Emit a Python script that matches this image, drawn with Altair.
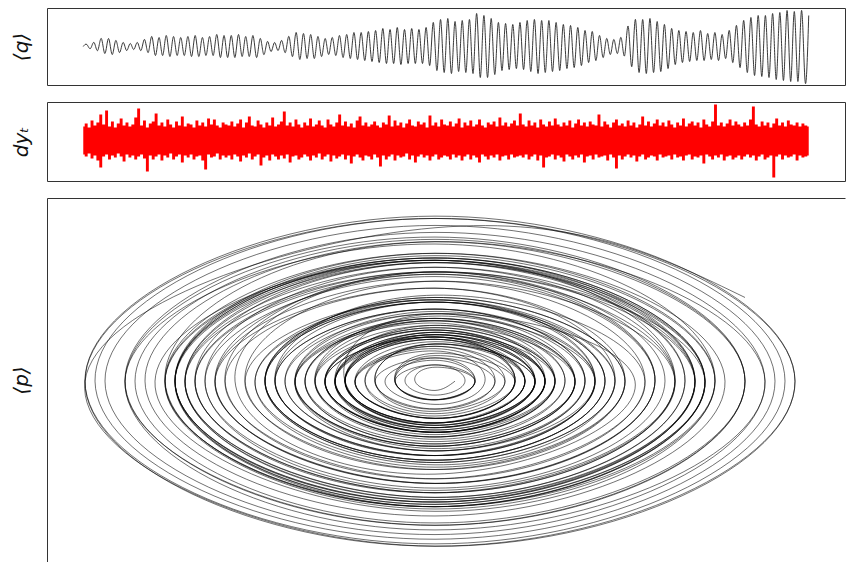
import altair as alt
import pandas as pd

# ---- values (pixel-like units, positive = up) ----
q_peaks = [2, 4, 8, 8, 6, 4, 3, 4, 7, 10,
           9, 11, 10, 9, 10, 11, 9, 10, 12, 11,
           11, 12, 10, 11, 8, 5, 4, 6, 10, 14,
           13, 12, 10, 8, 9, 11, 12, 14, 14, 15,
           16, 18, 17, 19, 17, 18, 17, 19, 24, 27,
           28, 25, 26, 27, 33, 31, 28, 24, 23, 22,
           24, 26, 27, 26, 26, 24, 22, 21, 19, 16,
           15, 11, 8, 7, 9, 20, 27, 27, 28, 25,
           22, 18, 16, 15, 14, 16, 13, 14, 12, 16,
           21, 26, 29, 31, 31, 33, 34, 36, 35, 36]
q_troughs = [-2, -4, -7, -8, -6, -4, -3, -4, -6, -9,
             -9, -10, -9, -9, -10, -10, -9, -9, -11, -11,
             -11, -10, -10, -11, -8, -5, -4, -6, -10, -13,
             -12, -12, -10, -8, -9, -11, -12, -13, -14, -15,
             -16, -17, -17, -18, -17, -17, -17, -19, -24, -26,
             -27, -25, -26, -27, -31, -31, -28, -24, -23, -22,
             -23, -25, -27, -26, -25, -24, -22, -21, -19, -16,
             -14, -11, -8, -7, -9, -20, -26, -27, -26, -25,
             -22, -18, -16, -15, -14, -14, -13, -14, -12, -16,
             -21, -26, -29, -30, -31, -33, -34, -35, -35, -35]
q_start = 0
q_end = 31          # last value of <q>, still rising
p_end = 18          # matching <p> at the end of the phase trajectory

# upper and lower edges of the red dy_t band
dy_upper = [15, 18, 14, 21, 16, 19, 27, 17, 31, 15, 20, 14, 18, 23, 16, 19, 15, 17, 24, 33, 16, 21, 14, 18, 20,
            28, 16, 19, 15, 22, 17, 14, 20, 16, 25, 15, 18, 17, 14, 21, 16, 19, 15, 23, 17, 22, 16, 14, 19, 17,
            16, 20, 15, 18, 22, 14, 19, 25, 16, 15, 21, 17, 14, 19, 16, 24, 15, 17, 20, 30, 16, 19, 15, 22, 17,
            14, 19, 16, 23, 15, 17, 21, 16, 14, 22, 17, 15, 19, 27, 16, 20, 15, 18, 14, 21, 25, 16, 19, 15, 17,
            20, 16, 14, 19, 17, 26, 15, 21, 16, 19, 14, 18, 22, 16, 15, 20, 17, 19, 14, 26, 16, 19, 15, 22, 17,
            16, 20, 15, 18, 23, 14, 19, 16, 21, 15, 17, 22, 16, 14, 19, 17, 20, 15, 24, 16, 19, 15, 18, 21, 16,
            28, 17, 15, 21, 16, 19, 14, 22, 17, 15, 20, 16, 23, 17, 15, 19, 16, 21, 14, 18, 22, 16, 19, 15, 20,
            17, 16, 27, 15, 20, 17, 14, 19, 22, 16, 18, 15, 21, 16, 19, 14, 17, 25, 16, 20, 15, 18, 22, 16, 19,
            15, 21, 17, 14, 19, 16, 23, 15, 18, 20, 16, 19, 14, 22, 17, 15, 20, 37, 16, 19, 15, 18, 22, 16, 20,
            17, 15, 19, 16, 22, 35, 17, 15, 20, 16, 19, 14, 18, 23, 16, 19, 15, 21, 17, 16, 19, 15, 18, 16, 15]
dy_lower = [-13, -15, -12, -17, -14, -19, -26, -15, -13, -18, -14, -16, -12, -15, -20, -13, -16, -14, -18, -15, -13, -17, -30, -14, -18,
            -15, -13, -19, -14, -16, -12, -18, -15, -13, -21, -14, -16, -13, -18, -15, -14, -19, -28, -13, -16, -15, -12, -18, -14, -16,
            -14, -18, -13, -15, -20, -14, -16, -12, -18, -15, -13, -24, -16, -14, -19, -13, -15, -18, -14, -17, -13, -21, -15, -14, -18,
            -16, -13, -15, -19, -14, -16, -12, -18, -15, -13, -20, -14, -17, -15, -13, -18, -14, -22, -15, -13, -16, -19, -14, -15, -18,
            -13, -16, -25, -14, -18, -15, -13, -19, -14, -16, -15, -12, -18, -14, -21, -15, -13, -16, -14, -19, -15, -13, -18, -16, -14,
            -15, -18, -13, -16, -14, -19, -15, -13, -18, -14, -16, -21, -13, -15, -18, -14, -16, -13, -19, -15, -14, -18, -13, -16, -15,
            -14, -16, -13, -18, -15, -13, -19, -14, -26, -16, -15, -13, -18, -14, -16, -20, -13, -15, -18, -14, -16, -13, -21, -15, -14,
            -18, -13, -16, -15, -14, -19, -13, -16, -27, -14, -18, -15, -13, -16, -14, -20, -15, -13, -18, -16, -14, -15, -19, -13, -16,
            -15, -14, -18, -13, -16, -15, -19, -14, -13, -18, -15, -16, -14, -22, -13, -15, -18, -14, -16, -13, -19, -15, -14, -18, -16,
            -14, -18, -15, -13, -16, -14, -19, -15, -13, -18, -16, -14, -36, -15, -13, -18, -14, -16, -15, -13, -19, -14, -16, -15, -14]

Q_LABEL = "⟨q⟩"
DY_LABEL = "dyₜ"
P_LABEL = "⟨p⟩"

# ---- tables ----
q_vals = [q_start]
for pk, tr in zip(q_peaks, q_troughs):
    q_vals += [pk, tr]
q_vals.append(q_end)
n_q = len(q_vals) - 1
df_q = pd.DataFrame({"t": list(range(len(q_vals))), "q": q_vals})

ext = q_vals[1:-1]
rows = []
for i, e in enumerate(ext):
    rows.append({"k": 2 * i, "q": e, "p": 0.0})
    nxt = ext[i + 1] if i + 1 < len(ext) else q_end
    m = (abs(e) + abs(nxt)) / 2.0
    rows.append({"k": 2 * i + 1, "q": 0.0, "p": -m if e > 0 else m})
rows.append({"k": 2 * len(ext), "q": q_end, "p": p_end})
df_ph = pd.DataFrame(rows)

n_dy = len(dy_upper) - 1
df_dy = pd.DataFrame({"i": list(range(len(dy_upper))), "hi": dy_upper, "lo": dy_lower})


def yaxis(title, domain=False):
    return alt.Axis(title=title, labels=False, ticks=False, domain=domain, grid=False,
                    domainColor="#333", domainWidth=1,
                    titlePadding=16, titleFontSize=20, titleFontWeight="normal",
                    titleFont="DejaVu Sans", titleFontStyle="italic", titleColor="#111")


top = alt.Chart(df_q).mark_line(color="#222", strokeWidth=0.9, interpolate="natural", clip=True).encode(
    x=alt.X("t:Q", axis=None, scale=alt.Scale(domain=[-0.05 * n_q, 1.05 * n_q], nice=False, zero=False)),
    y=alt.Y("q:Q", axis=yaxis(Q_LABEL), scale=alt.Scale(domain=[-38.5, 38.5], nice=False)),
).properties(width=798, height=77)

mid = alt.Chart(df_dy).mark_area(color="#ff0000", interpolate="step", clip=True).encode(
    x=alt.X("i:Q", axis=None, scale=alt.Scale(domain=[-0.05 * n_dy, 1.05 * n_dy], nice=False, zero=False)),
    y=alt.Y("hi:Q", axis=yaxis(DY_LABEL), scale=alt.Scale(domain=[-39.5, 39.5], nice=False)),
    y2="lo:Q",
).properties(width=798, height=79)

bot = alt.Chart(df_ph).mark_line(color="#000", strokeWidth=0.7, opacity=0.8, interpolate="natural", clip=True).encode(
    x=alt.X("q:Q", axis=alt.Axis(orient="top", title=None, labels=False, ticks=False, grid=False,
                                 domain=True, domainColor="#333", domainWidth=1),
            scale=alt.Scale(domain=[-38.8, 41.0], nice=False, zero=False)),
    y=alt.Y("p:Q", axis=yaxis(P_LABEL, domain=True), scale=alt.Scale(domain=[-38.9, 39.4], nice=False, zero=False)),
    order="k:Q",
).properties(width=798, height=364, view=alt.ViewBackground(stroke="transparent"))

chart = alt.vconcat(top, mid, bot, spacing=15).properties(
    padding={"left": 10, "top": 7, "right": 0, "bottom": 0}, background="white"
).configure_view(stroke="#333", strokeWidth=1)

chart.save("out.html", embed_options={"renderer": "svg", "actions": False})
